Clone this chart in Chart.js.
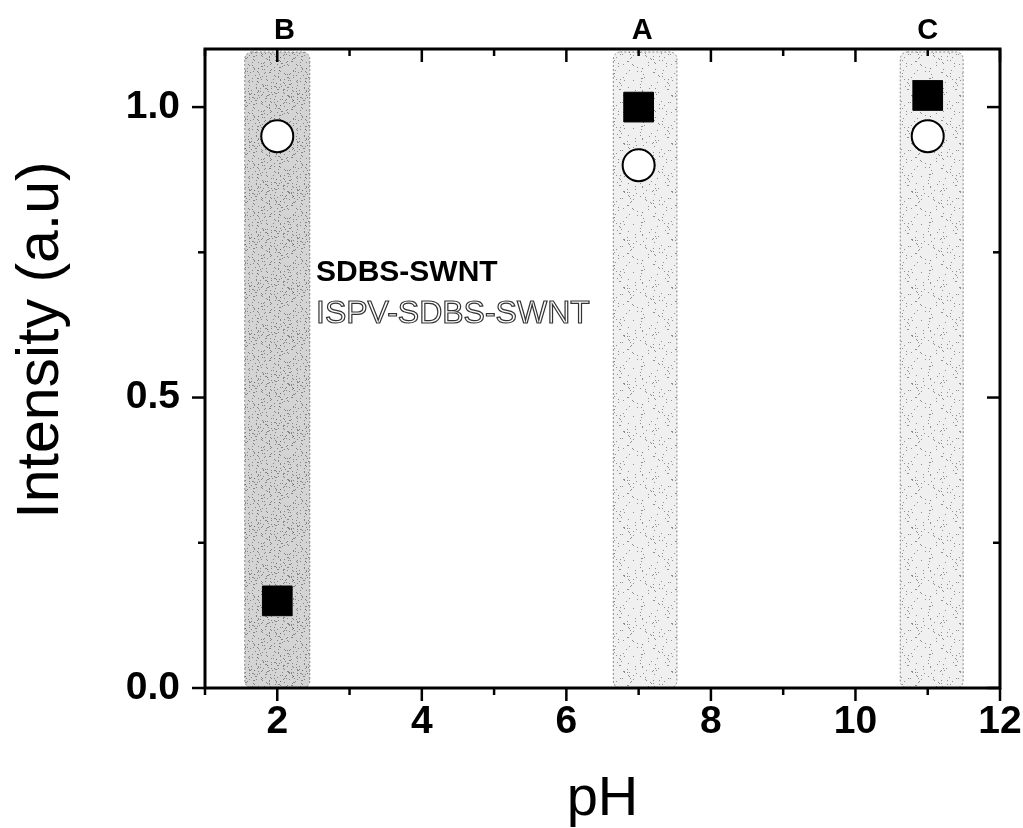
<!DOCTYPE html>
<html>
<head>
<meta charset="utf-8">
<script src="https://cdn.jsdelivr.net/npm/chart.js@4"></script>
<style>
  body { margin: 0; background: #fff; }
  canvas { display: block; }
</style>
</head>
<body>
<canvas id="chart" width="1023" height="828"></canvas>
<script>
// data
const phValues = [2, 7, 11];
const sdbsSwnt = [0.15, 1.00, 1.02];
const ispvSdbsSwnt = [0.95, 0.90, 0.95];
const seriesNames = ['SDBS-SWNT', 'ISPV-SDBS-SWNT'];

// shaded pH regions and their letters
const bandLabels = ['B', 'A', 'C'];
const bandFrom = [1.55, 6.65, 10.62];
const bandTo = [2.45, 7.53, 11.49];
const bandLabelPh = [2.1, 7.05, 11.0];
const bandShade = ['#d4d4d4', '#f0f0f0', '#f0f0f0'];

const xTicks = [2, 4, 6, 8, 10, 12];
const xMinor = [1, 3, 5, 7, 9, 11];
const yTicks = [0, 0.5, 1.0];
const yMinor = [0.25, 0.75];

const FONT = '"Liberation Sans", Arial, sans-serif';

// little stipple texture, deterministic
function stipple(base, dots) {
  const c = document.createElement('canvas');
  c.width = 48; c.height = 48;
  const g = c.getContext('2d');
  g.fillStyle = base;
  g.fillRect(0, 0, 48, 48);
  g.fillStyle = 'rgba(80,80,80,0.6)';
  for (let i = 0; i < dots; i++) {
    const px = (i * 37 + (i * i) % 23) % 48;
    const py = (i * 53 + (i * 7) % 19) % 48;
    g.fillRect(px, py, 1, 1);
  }
  return g.createPattern(c, 'repeat');
}

const bandsPlugin = {
  id: 'bands',
  beforeDatasetsDraw(chart) {
    const { ctx, chartArea, scales } = chart;
    ctx.save();
    bandFrom.forEach((from, i) => {
      const x0 = scales.x.getPixelForValue(from);
      const x1 = scales.x.getPixelForValue(bandTo[i]);
      const y0 = chartArea.top + 3;
      const y1 = chartArea.bottom;
      ctx.beginPath();
      ctx.roundRect(x0, y0, x1 - x0, y1 - y0, 7);
      ctx.fillStyle = stipple(bandShade[i], i === 0 ? 240 : 90);
      ctx.fill();
      ctx.setLineDash([2, 2]);
      ctx.lineWidth = 1;
      ctx.strokeStyle = '#888';
      ctx.stroke();
      ctx.setLineDash([]);
    });
    ctx.restore();
  }
};

const framePlugin = {
  id: 'frame',
  afterDatasetsDraw(chart) {
    const { ctx, chartArea: a, scales } = chart;
    ctx.save();
    ctx.strokeStyle = '#000';
    ctx.lineWidth = 3;
    ctx.strokeRect(a.left, a.top, a.right - a.left, a.bottom - a.top);
    ctx.lineWidth = 2.5;
    const tick = (x0, y0, x1, y1) => {
      ctx.beginPath(); ctx.moveTo(x0, y0); ctx.lineTo(x1, y1); ctx.stroke();
    };
    xTicks.concat(xMinor).forEach(v => {
      const len = xTicks.includes(v) ? 13 : 7;
      const x = scales.x.getPixelForValue(v);
      tick(x, a.bottom, x, a.bottom + len);
      tick(x, a.top, x, a.top + len);
    });
    yTicks.concat(yMinor).forEach(v => {
      const len = yTicks.includes(v) ? 13 : 7;
      const y = scales.y.getPixelForValue(v);
      tick(a.left, y, a.left - len, y);
      tick(a.right, y, a.right - len, y);
    });

    // region letters above the frame
    ctx.fillStyle = '#000';
    ctx.font = 'bold 29px ' + FONT;
    ctx.textAlign = 'center';
    ctx.textBaseline = 'alphabetic';
    bandLabels.forEach((t, i) => {
      ctx.fillText(t, scales.x.getPixelForValue(bandLabelPh[i]), 39);
    });

    // y axis title, sits a bit above the middle in the original
    ctx.save();
    ctx.translate(42, 340);
    ctx.rotate(-Math.PI / 2);
    ctx.textBaseline = 'middle';
    ctx.font = '59px ' + FONT;
    ctx.fillText('Intensity (a.u)', 0, 0);
    ctx.restore();

    // legend, text only
    ctx.textAlign = 'left';
    ctx.font = 'bold 30px ' + FONT;
    ctx.fillText(seriesNames[0], 316, 281);
    ctx.font = '32px ' + FONT;
    ctx.fillStyle = '#fff';
    ctx.fillText(seriesNames[1], 316, 323);
    ctx.lineWidth = 1.2;
    ctx.strokeStyle = '#333';
    ctx.strokeText(seriesNames[1], 316, 323);
    ctx.restore();
  }
};

const toPoints = ys => phValues.map((x, i) => ({ x: x, y: ys[i] }));

new Chart(document.getElementById('chart'), {
  type: 'scatter',
  data: {
    datasets: [
      {
        label: seriesNames[0],
        data: toPoints(sdbsSwnt),
        pointStyle: 'rect',
        pointRadius: 21,
        backgroundColor: '#000',
        borderColor: '#000',
        borderWidth: 1
      },
      {
        label: seriesNames[1],
        data: toPoints(ispvSdbsSwnt),
        pointStyle: 'circle',
        pointRadius: 16,
        backgroundColor: '#fff',
        borderColor: '#000',
        borderWidth: 2
      }
    ]
  },
  options: {
    responsive: false,
    animation: false,
    devicePixelRatio: 1,
    layout: { padding: { top: 49, right: 23, left: 0, bottom: 0 } },
    plugins: { legend: { display: false }, tooltip: { enabled: false } },
    scales: {
      x: {
        type: 'linear',
        min: 1,
        max: 12,
        afterBuildTicks: s => { s.ticks = xTicks.map(v => ({ value: v })); },
        afterFit: s => { s.height = 140; s.paddingLeft = 0; s.paddingRight = 0; },
        grid: { display: false },
        border: { display: false },
        ticks: {
          padding: 3,
          color: '#000',
          font: { family: FONT, size: 39, weight: 'bold' },
          maxRotation: 0
        },
        title: {
          display: true,
          text: 'pH',
          color: '#000',
          font: { family: FONT, size: 56, lineHeight: 1 },
          padding: { top: 0, bottom: 0 }
        }
      },
      y: {
        type: 'linear',
        min: 0,
        max: 1.1,
        afterBuildTicks: s => { s.ticks = yTicks.map(v => ({ value: v })); },
        afterFit: s => { s.width = 205; s.paddingTop = 0; s.paddingBottom = 0; },
        grid: { display: false },
        border: { display: false },
        ticks: {
          padding: 17,
          color: '#000',
          font: { family: FONT, size: 39, weight: 'bold' },
          callback: v => v.toFixed(1)
        }
      }
    }
  },
  plugins: [bandsPlugin, framePlugin]
});
</script>
</body>
</html>
